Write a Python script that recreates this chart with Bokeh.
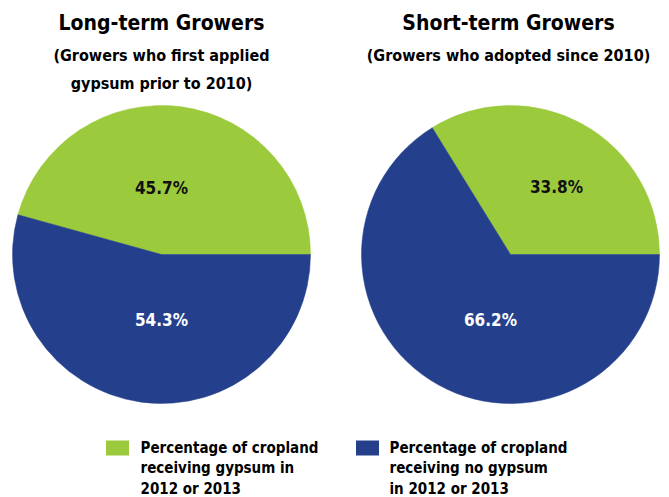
import math
from bokeh.plotting import figure
from bokeh.models import ColumnDataSource
from bokeh.core.properties import value
from bokeh.embed import file_html
from bokeh.resources import INLINE

# ---- data ----
titles = ["Long-term Growers", "Short-term Growers"]
subtitles = [["(Growers who first applied", "gypsum prior to 2010)"],
             ["(Growers who adopted since 2010)"]]
categories = ["Percentage of cropland receiving gypsum in 2012 or 2013",
              "Percentage of cropland receiving no gypsum in 2012 or 2013"]
legend_lines = [["Percentage of cropland", "receiving gypsum in", "2012 or 2013"],
                ["Percentage of cropland", "receiving no gypsum", "in 2012 or 2013"]]
long_term = [45.7, 54.3]
short_term = [33.8, 66.2]
colors = ["#9BCA3C", "#243F8C"]
label_colors = ["#111111", "#FFFFFF"]

W, H = 669, 497
FONT = "'DejaVu Sans Condensed', 'Liberation Sans Narrow', Roboto, sans-serif"

p = figure(width=W, height=H, x_range=(0, W), y_range=(0, H),
           output_backend="svg", toolbar_location=None, min_border=0,
           outline_line_color=None)
p.axis.visible = False
p.grid.visible = False
p.background_fill_color = "white"

def Y(img_y):
    return H - img_y

def X(img_x):
    return img_x

centers = [(X(161), Y(254)), (X(510), Y(254))]
radius = 149
series = [long_term, short_term]
label_pos = [[(161, 187), (161, 319)], [(556, 186), (490, 319)]]

for i, vals in enumerate(series):
    total = sum(vals)
    starts, ends = [], []
    acc = 0.0
    for v in vals:
        starts.append(2 * math.pi * acc / total)
        acc += v
        ends.append(2 * math.pi * acc / total)
    cx, cy = centers[i]
    src = ColumnDataSource(dict(x=[cx] * len(vals), y=[cy] * len(vals),
                                start=starts, end=ends, color=colors))
    p.wedge(x="x", y="y", radius=radius, start_angle="start", end_angle="end",
            fill_color="color", line_color="color", line_width=0.5, source=src)
    lsrc = ColumnDataSource(dict(
        x=[X(lp[0]) for lp in label_pos[i]],
        y=[Y(lp[1]) for lp in label_pos[i]],
        t=["%.1f%%" % v for v in vals],
        c=label_colors))
    p.text(x="x", y="y", text="t", text_color="c", source=lsrc,
           text_font=value(FONT), text_font_style="bold", text_font_size="17px",
           text_align="center", text_baseline="middle")

# titles
title_x = [161, 508]
for i in range(2):
    p.text(x=[X(title_x[i])], y=[Y(22)], text=[titles[i]],
           text_font=value(FONT), text_font_style="bold", text_font_size="21px",
           text_align="center", text_baseline="middle", text_color="#000000")
    for j, line in enumerate(subtitles[i]):
        p.text(x=[X(title_x[i])], y=[Y(55 + 28 * j)], text=[line],
               text_font=value(FONT), text_font_style="bold", text_font_size="16px",
               text_align="center", text_baseline="middle", text_color="#000000")

# legend
sq_x = [117, 367]
txt_x = [140, 389]
for i in range(2):
    p.rect(x=[X(sq_x[i])], y=[Y(447.5)], width=23, height=15,
           fill_color=colors[i], line_color=None)
    for j, line in enumerate(legend_lines[i]):
        p.text(x=[X(txt_x[i])], y=[Y(447 + 20.5 * j)], text=[line],
               text_font=value(FONT), text_font_style="bold", text_font_size="15px",
               text_align="left", text_baseline="middle", text_color="#000000")

open("out.html", "w").write(file_html(p, INLINE))
